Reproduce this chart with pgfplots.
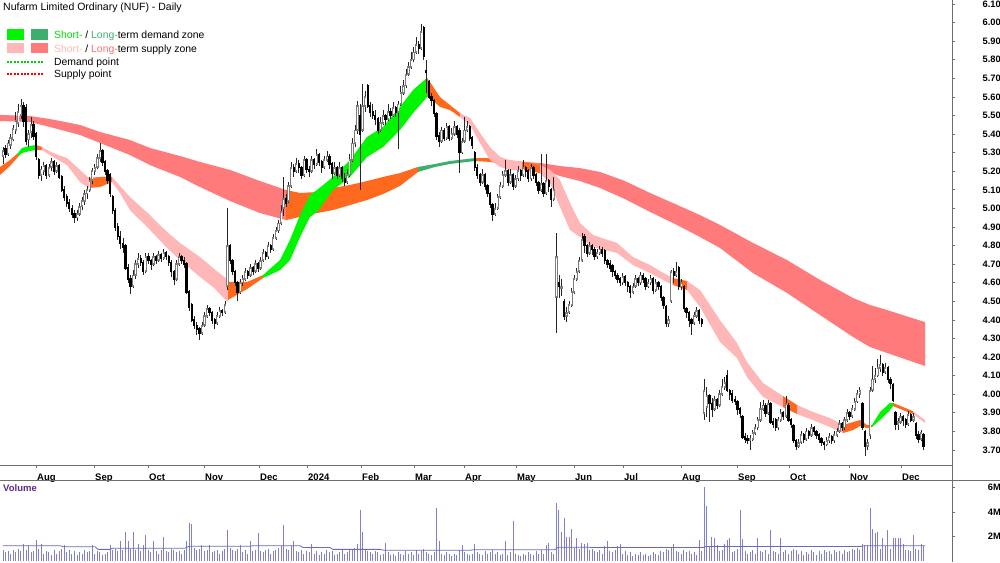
\documentclass[border=0pt]{standalone}
\usepackage{fontspec}
\setmainfont{Liberation Sans}
\usepackage{pgfplots}
\usepackage{pgfplotstable}
\pgfplotsset{compat=1.18}
\definecolor{ltred}{RGB}{255,122,122}
\definecolor{stpink}{RGB}{255,182,182}
\definecolor{stgreen}{RGB}{0,245,0}
\definecolor{ltgreen}{RGB}{60,175,110}
\definecolor{zorange}{RGB}{255,105,30}
\definecolor{volblue}{RGB}{128,128,210}
\definecolor{volline}{RGB}{105,105,195}
\definecolor{volpurple}{RGB}{90,40,140}
\definecolor{axgray}{RGB}{110,110,110}
\definecolor{upgray}{RGB}{125,125,125}
\newcommand\tickfont{\bfseries\fontsize{9.3}{10}\selectfont}

\pgfplotstableread{
i o h l c v
0 5.28 5.33 5.24 5.31 0.9
1 5.32 5.34 5.27 5.29 0.7
2 5.29 5.37 5.28 5.35 0.8
3 5.34 5.40 5.32 5.38 0.6
4 5.37 5.45 5.36 5.43 0.9
5 5.42 5.52 5.40 5.47 0.7
6 5.46 5.56 5.44 5.52 1.0
7 5.50 5.59 5.48 5.55 0.8
8 5.55 5.57 5.44 5.47 1.4
9 5.54 5.56 5.34 5.36 0.9
10 5.37 5.42 5.33 5.40 1.3
11 5.41 5.49 5.38 5.45 0.7
12 5.45 5.47 5.37 5.39 0.8
13 5.40 5.41 5.26 5.28 1.7
14 5.26 5.27 5.16 5.18 1.0
15 5.18 5.23 5.15 5.21 1.35
16 5.20 5.25 5.18 5.23 0.6
17 5.23 5.24 5.16 5.18 0.8
18 5.18 5.24 5.17 5.22 0.7
19 5.22 5.27 5.20 5.25 0.5
20 5.25 5.26 5.18 5.20 0.9
21 5.20 5.25 5.19 5.23 0.6
22 5.23 5.24 5.16 5.17 0.8
23 5.17 5.18 5.09 5.10 1.0
24 5.10 5.12 5.04 5.06 1.3
25 5.06 5.08 5.01 5.03 0.7
26 5.03 5.05 4.98 5.00 0.9
27 5.00 5.02 4.95 4.97 0.6
28 4.97 4.99 4.92 4.95 0.8
29 4.95 4.99 4.93 4.97 0.5
30 4.97 5.03 4.96 5.01 0.7
31 5.01 5.06 4.99 5.04 0.6
32 5.04 5.10 5.02 5.08 0.9
33 5.08 5.12 5.05 5.10 0.7
34 5.10 5.17 5.09 5.15 0.8
35 5.15 5.22 5.13 5.20 1.3
36 5.20 5.24 5.18 5.22 0.6
37 5.22 5.29 5.21 5.27 0.8
38 5.27 5.35 5.25 5.31 0.7
39 5.31 5.32 5.23 5.25 0.5
40 5.25 5.26 5.18 5.20 0.6
41 5.20 5.21 5.13 5.15 0.7
42 5.18 5.19 5.06 5.08 1.3
43 5.06 5.07 4.97 4.99 0.9
44 4.99 5.00 4.88 4.90 1.0
45 4.90 4.92 4.83 4.85 0.8
46 4.85 4.88 4.78 4.81 1.6
47 4.81 4.84 4.76 4.79 0.9
48 4.80 4.81 4.67 4.68 2.4
49 4.68 4.70 4.60 4.62 1.6
50 4.62 4.64 4.54 4.58 1.0
51 4.58 4.67 4.57 4.64 2.4
52 4.64 4.72 4.62 4.70 0.9
53 4.70 4.76 4.68 4.73 1.4
54 4.73 4.75 4.69 4.71 0.8
55 4.71 4.72 4.64 4.66 1.3
56 4.66 4.76 4.65 4.74 2.1
57 4.74 4.76 4.70 4.72 0.9
58 4.72 4.73 4.67 4.70 0.7
59 4.70 4.76 4.69 4.74 1.6
60 4.74 4.75 4.70 4.72 0.8
61 4.72 4.77 4.71 4.75 0.6
62 4.75 4.76 4.71 4.73 0.9
63 4.73 4.78 4.72 4.76 2.0
64 4.76 4.77 4.72 4.74 0.8
65 4.74 4.75 4.69 4.71 0.7
66 4.71 4.72 4.63 4.66 1.0
67 4.66 4.67 4.59 4.62 0.9
68 4.62 4.72 4.61 4.70 0.7
69 4.70 4.76 4.69 4.74 0.8
70 4.74 4.75 4.70 4.72 0.6
71 4.72 4.74 4.68 4.70 0.9
72 4.70 4.71 4.54 4.55 1.6
73 4.55 4.56 4.45 4.47 3.1
74 4.48 4.49 4.39 4.40 3.0
75 4.40 4.42 4.35 4.37 1.1
76 4.37 4.39 4.32 4.35 0.9
77 4.35 4.36 4.29 4.33 1.0
78 4.33 4.39 4.32 4.37 1.3
79 4.37 4.44 4.36 4.42 0.8
80 4.42 4.48 4.41 4.46 0.9
81 4.46 4.47 4.42 4.44 1.3
82 4.44 4.45 4.38 4.40 0.7
83 4.40 4.41 4.35 4.38 0.8
84 4.38 4.44 4.37 4.42 0.9
85 4.42 4.47 4.41 4.45 0.6
86 4.45 4.46 4.42 4.44 0.8
87 4.44 4.50 4.43 4.48 1.0
88 4.58 5.00 4.56 4.80 2.5
89 4.80 4.81 4.70 4.72 1.1
90 4.72 4.73 4.64 4.66 0.9
91 4.66 4.67 4.58 4.60 0.8
92 4.60 4.61 4.50 4.55 1.0
93 4.55 4.62 4.54 4.60 1.3
94 4.60 4.64 4.58 4.62 0.7
95 4.62 4.68 4.61 4.66 0.9
96 4.66 4.67 4.62 4.64 0.6
97 4.64 4.70 4.63 4.68 1.6
98 4.68 4.69 4.64 4.66 0.8
99 4.66 4.72 4.65 4.70 0.9
100 4.70 4.71 4.66 4.68 2.3
101 4.68 4.74 4.67 4.72 0.8
102 4.72 4.78 4.71 4.76 0.7
103 4.76 4.77 4.72 4.74 0.9
104 4.74 4.82 4.73 4.80 1.0
105 4.80 4.81 4.76 4.78 0.6
106 4.78 4.86 4.77 4.84 0.8
107 4.84 4.90 4.83 4.88 0.9
108 4.88 4.94 4.87 4.92 1.1
109 4.92 5.02 4.91 4.98 1.2
110 5.00 5.17 4.96 5.05 2.9
111 5.05 5.08 5.01 5.03 1.0
112 5.04 5.14 5.03 5.12 0.9
113 5.12 5.25 5.11 5.22 1.2
114 5.22 5.24 5.17 5.20 1.6
115 5.20 5.27 5.19 5.24 0.8
116 5.24 5.26 5.19 5.22 0.7
117 5.22 5.23 5.16 5.18 0.9
118 5.18 5.28 5.17 5.26 0.6
119 5.26 5.27 5.19 5.21 0.8
120 5.21 5.23 5.17 5.20 0.7
121 5.20 5.28 5.19 5.26 1.4
122 5.26 5.27 5.21 5.24 0.6
123 5.24 5.32 5.23 5.29 0.8
124 5.29 5.30 5.23 5.25 0.5
125 5.25 5.26 5.19 5.22 0.7
126 5.22 5.28 5.21 5.26 0.6
127 5.26 5.31 5.25 5.28 0.9
128 5.28 5.29 5.21 5.24 0.7
129 5.24 5.25 5.16 5.19 0.8
130 5.19 5.25 5.18 5.22 0.5
131 5.22 5.23 5.16 5.18 0.6
132 5.18 5.25 5.17 5.22 0.7
133 5.22 5.23 5.14 5.16 0.9
134 5.16 5.19 5.12 5.14 0.6
135 5.14 5.21 5.13 5.18 0.7
136 5.18 5.29 5.17 5.26 1.0
137 5.26 5.38 5.25 5.35 0.9
138 5.35 5.45 5.33 5.42 1.1
139 5.42 5.58 5.40 5.55 1.4
140 5.50 5.56 5.10 5.40 4.2
141 5.42 5.67 5.41 5.55 2.4
142 5.55 5.63 5.52 5.60 1.0
143 5.66 5.67 5.54 5.55 0.8
144 5.55 5.57 5.49 5.52 0.7
145 5.52 5.56 5.48 5.50 0.6
146 5.50 5.53 5.45 5.48 0.8
147 5.48 5.49 5.40 5.42 0.7
148 5.42 5.49 5.41 5.46 0.5
149 5.46 5.53 5.45 5.50 0.6
150 5.50 5.51 5.45 5.48 1.5
151 5.48 5.56 5.47 5.52 0.7
152 5.52 5.54 5.48 5.50 0.5
153 5.50 5.57 5.49 5.54 0.6
154 5.54 5.55 5.49 5.52 0.4
155 5.52 5.58 5.32 5.56 0.7
156 5.56 5.66 5.55 5.62 0.6
157 5.62 5.69 5.61 5.66 0.5
158 5.66 5.75 5.65 5.72 0.8
159 5.72 5.79 5.71 5.76 0.6
160 5.76 5.84 5.75 5.80 0.7
161 5.80 5.87 5.79 5.84 0.5
162 5.84 5.92 5.83 5.88 0.9
163 5.88 5.90 5.83 5.86 0.6
164 5.86 5.99 5.85 5.95 0.8
165 5.97 5.98 5.80 5.82 1.0
166 5.74 5.80 5.62 5.73 0.7
167 5.68 5.69 5.59 5.60 0.6
168 5.60 5.62 5.55 5.58 0.5
169 5.58 5.59 5.49 5.51 0.7
170 5.51 5.52 5.37 5.39 4.3
171 5.39 5.41 5.33 5.36 1.6
172 5.36 5.44 5.35 5.42 0.6
173 5.42 5.43 5.36 5.38 0.5
174 5.38 5.46 5.37 5.44 0.7
175 5.44 5.45 5.36 5.38 0.6
176 5.38 5.43 5.37 5.40 0.4
177 5.40 5.47 5.39 5.44 0.6
178 5.44 5.45 5.38 5.40 0.5
179 5.42 5.43 5.19 5.30 0.9
180 5.30 5.38 5.29 5.36 1.3
181 5.36 5.49 5.35 5.42 0.7
182 5.42 5.47 5.41 5.44 0.6
183 5.44 5.45 5.36 5.38 0.5
184 5.38 5.39 5.32 5.34 0.6
185 5.30 5.31 5.20 5.22 1.35
186 5.22 5.24 5.16 5.18 0.7
187 5.18 5.19 5.12 5.14 0.6
188 5.14 5.21 5.13 5.18 0.5
189 5.18 5.19 5.10 5.12 0.8
190 5.12 5.13 5.06 5.08 0.6
191 5.08 5.09 5.00 5.02 0.7
192 5.02 5.03 4.93 4.97 0.9
193 4.97 5.03 4.96 5.00 0.6
194 5.00 5.08 4.99 5.06 0.7
195 5.06 5.14 5.05 5.12 0.5
196 5.12 5.20 5.11 5.18 0.6
197 5.18 5.26 5.17 5.20 1.6
198 5.20 5.21 5.12 5.14 0.5
199 5.14 5.21 5.13 5.18 0.7
200 5.18 5.19 5.10 5.12 3.3
201 5.12 5.18 5.11 5.16 0.6
202 5.16 5.23 5.15 5.20 0.5
203 5.20 5.21 5.15 5.18 0.4
204 5.18 5.26 5.17 5.22 0.6
205 5.22 5.23 5.17 5.20 0.5
206 5.20 5.21 5.14 5.16 0.7
207 5.16 5.24 5.15 5.22 0.6
208 5.22 5.23 5.16 5.18 0.5
209 5.18 5.19 5.12 5.14 0.8
210 5.14 5.15 5.08 5.10 0.6
211 5.10 5.29 5.09 5.13 0.9
212 5.13 5.14 5.06 5.08 0.6
213 5.08 5.29 5.07 5.15 1.3
214 5.15 5.16 5.09 5.12 1.5
215 5.10 5.11 5.01 5.05 0.7
216 5.05 5.17 5.04 5.10 0.6
217 4.52 4.87 4.33 4.74 4.7
218 4.60 4.64 4.52 4.58 4.2
219 4.57 4.62 4.53 4.58 2.4
220 4.50 4.51 4.40 4.42 3.5
221 4.42 4.47 4.39 4.44 2.0
222 4.44 4.50 4.43 4.48 2.0
223 4.48 4.57 4.47 4.55 2.6
224 4.55 4.64 4.54 4.62 1.1
225 4.62 4.68 4.61 4.66 1.9
226 4.66 4.74 4.65 4.72 1.0
227 4.72 4.87 4.71 4.83 1.5
228 4.85 4.86 4.76 4.80 1.4
229 4.80 4.81 4.74 4.76 1.5
230 4.76 4.82 4.75 4.80 0.9
231 4.80 4.81 4.75 4.78 1.0
232 4.78 4.79 4.72 4.74 0.8
233 4.74 4.78 4.73 4.76 0.7
234 4.76 4.80 4.75 4.78 0.9
235 4.78 4.79 4.74 4.76 0.6
236 4.77 4.78 4.70 4.72 1.2
237 4.72 4.73 4.68 4.70 1.6
238 4.70 4.72 4.66 4.68 0.8
239 4.69 4.70 4.63 4.66 0.7
240 4.66 4.67 4.62 4.64 0.9
241 4.64 4.65 4.60 4.62 1.2
242 4.62 4.63 4.58 4.60 1.4
243 4.60 4.65 4.59 4.63 0.6
244 4.63 4.64 4.58 4.60 0.8
245 4.60 4.61 4.55 4.58 0.5
246 4.58 4.59 4.52 4.55 0.7
247 4.55 4.60 4.54 4.58 0.4
248 4.58 4.64 4.57 4.62 0.6
249 4.62 4.63 4.58 4.60 0.5
250 4.60 4.66 4.59 4.64 0.7
251 4.64 4.65 4.60 4.62 0.5
252 4.62 4.63 4.56 4.58 0.6
253 4.58 4.62 4.57 4.60 0.4
254 4.60 4.64 4.59 4.62 0.5
255 4.62 4.63 4.54 4.56 0.7
256 4.56 4.62 4.55 4.60 0.6
257 4.60 4.61 4.56 4.58 0.5
258 4.58 4.59 4.50 4.52 0.8
259 4.52 4.53 4.46 4.48 0.7
260 4.47 4.48 4.36 4.38 1.0
261 4.38 4.42 4.36 4.40 0.9
262 4.50 4.67 4.49 4.66 1.1
263 4.66 4.68 4.60 4.64 1.4
264 4.64 4.71 4.63 4.66 0.8
265 4.68 4.69 4.56 4.58 0.7
266 4.58 4.62 4.56 4.60 0.6
267 4.58 4.59 4.44 4.46 0.9
268 4.46 4.47 4.41 4.44 0.7
269 4.44 4.45 4.36 4.40 0.8
270 4.40 4.41 4.32 4.38 0.6
271 4.38 4.44 4.37 4.42 0.7
272 4.42 4.47 4.41 4.45 0.5
273 4.45 4.46 4.38 4.40 1.7
274 4.40 4.41 4.36 4.38 0.8
275 3.90 4.08 3.86 4.02 6.0
276 3.93 4.04 3.88 3.99 4.5
277 3.99 4.00 3.85 3.95 1.2
278 3.95 3.98 3.88 3.92 2.0
279 3.92 3.99 3.91 3.97 1.9
280 3.97 3.98 3.92 3.94 1.3
281 3.94 4.02 3.93 4.00 0.8
282 4.00 4.08 3.99 4.04 0.9
283 4.04 4.09 4.02 4.06 1.4
284 4.10 4.13 4.01 4.02 1.7
285 4.02 4.03 3.97 4.00 1.9
286 4.00 4.02 3.95 3.97 0.7
287 3.97 3.99 3.94 3.96 0.8
288 3.96 3.97 3.89 3.92 1.0
289 3.92 3.93 3.87 3.90 4.2
290 3.88 3.89 3.76 3.77 1.8
291 3.77 3.79 3.74 3.76 0.8
292 3.76 3.78 3.73 3.75 0.6
293 3.75 3.78 3.70 3.76 0.7
294 3.76 3.81 3.75 3.79 0.9
295 3.79 3.84 3.78 3.82 0.6
296 3.82 3.88 3.81 3.86 1.9
297 3.86 3.96 3.85 3.92 0.8
298 3.92 3.97 3.91 3.94 0.7
299 3.94 3.95 3.88 3.90 0.9
300 3.90 3.97 3.89 3.95 0.6
301 3.95 3.96 3.84 3.85 2.5
302 3.85 3.87 3.82 3.84 0.8
303 3.86 3.87 3.80 3.82 0.7
304 3.82 3.88 3.81 3.86 0.6
305 3.86 3.92 3.85 3.90 1.9
306 3.90 3.91 3.86 3.88 0.7
307 3.88 3.99 3.87 3.95 0.9
308 3.94 3.95 3.85 3.86 0.6
309 3.86 3.87 3.82 3.84 0.8
310 3.83 3.84 3.74 3.75 1.0
311 3.75 3.76 3.70 3.72 0.9
312 3.72 3.76 3.71 3.74 0.6
313 3.74 3.80 3.73 3.78 0.8
314 3.78 3.79 3.74 3.76 0.5
315 3.76 3.82 3.75 3.80 0.7
316 3.80 3.81 3.76 3.78 0.6
317 3.78 3.84 3.77 3.82 0.9
318 3.82 3.83 3.78 3.80 0.7
319 3.80 3.81 3.76 3.78 0.5
320 3.78 3.79 3.74 3.76 0.8
321 3.76 3.77 3.72 3.74 0.6
322 3.74 3.75 3.70 3.73 0.9
323 3.73 3.77 3.72 3.75 0.7
324 3.75 3.79 3.74 3.77 0.8
325 3.77 3.78 3.73 3.75 0.6
326 3.75 3.80 3.74 3.78 0.9
327 3.78 3.82 3.77 3.80 0.7
328 3.80 3.86 3.79 3.84 0.8
329 3.84 3.85 3.80 3.82 0.6
330 3.82 3.88 3.81 3.86 0.9
331 3.86 3.92 3.85 3.90 0.7
332 3.90 3.91 3.86 3.88 0.8
333 3.88 3.94 3.87 3.92 1.0
334 3.92 3.98 3.91 3.96 0.9
335 3.96 4.02 3.95 4.00 1.1
336 4.00 4.04 3.98 4.02 0.9
337 3.95 3.96 3.81 3.82 1.4
338 3.80 3.81 3.67 3.72 1.3
339 3.72 3.76 3.70 3.74 1.3
340 3.78 4.04 3.76 4.02 4.3
341 4.02 4.15 4.01 4.08 2.6
342 4.08 4.14 4.06 4.10 2.3
343 4.10 4.19 4.09 4.14 2.4
344 4.14 4.21 4.12 4.16 1.0
345 4.16 4.17 4.10 4.12 1.9
346 4.12 4.17 4.11 4.14 1.2
347 4.14 4.15 4.06 4.08 2.5
348 4.08 4.09 4.03 4.06 1.0
349 4.05 4.06 3.96 3.97 1.9
350 3.90 3.91 3.81 3.84 1.9
351 3.84 3.87 3.81 3.85 1.9
352 3.85 3.90 3.84 3.88 1.9
353 3.88 3.89 3.83 3.86 1.4
354 3.86 3.87 3.82 3.84 0.9
355 3.84 3.91 3.83 3.89 0.9
356 3.89 3.90 3.85 3.86 0.8
357 3.86 3.90 3.85 3.88 2.1
358 3.84 3.85 3.76 3.78 1.0
359 3.78 3.80 3.74 3.76 0.9
360 3.76 3.81 3.75 3.79 1.4
361 3.78 3.79 3.70 3.72 1.2
}\candles

\begin{document}
\begin{tikzpicture}[x=1pt,y=1pt]
\useasboundingbox (0,0) rectangle (1000,562);
% ---------------- price panel ----------------
\begin{axis}[at={(0pt,562pt)}, anchor=north west, scale only axis,
  width=952pt, height=465pt,
  xmin=0, xmax=952, ymin=3.619, ymax=6.1215,
  axis x line*=bottom, axis y line*=right,
  axis line style={axgray, line width=0.8pt},
  tick align=outside, major tick length=3pt,
  tick style={axgray, line width=0.7pt},
  xtick={36,94,148,204,259,307,361,414,464,516,574,623,681,737,789,849,901},
  xticklabels={Aug,Sep,Oct,Nov,Dec,2024,Feb,Mar,Apr,May,Jun,Jul,Aug,Sep,Oct,Nov,Dec},
  xticklabel style={font=\bfseries\fontsize{9.5}{10}\selectfont, anchor=base west, inner sep=0pt, xshift=1pt, yshift=-12.5pt},
  ytick={3.7,3.8,3.9,4.0,4.1,4.2,4.3,4.4,4.5,4.6,4.7,4.8,4.9,5.0,5.1,5.2,5.3,5.4,5.5,5.6,5.7,5.8,5.9,6.0,6.1},
  yticklabel style={font=\tickfont, anchor=east, inner sep=0pt, xshift=46pt,
    /pgf/number format/fixed, /pgf/number format/fixed zerofill,
    /pgf/number format/precision=2, /pgf/number format/assume math mode=true},
]
% long-term band
\addplot[fill=ltred, draw=none, forget plot] coordinates {(0,5.503) (30,5.497) (50,5.481) (80,5.449) (100,5.411) (130,5.368) (150,5.325) (180,5.282) (200,5.250) (230,5.207) (260,5.147) (286,5.099) (286,4.937) (260,4.975) (230,5.040) (200,5.115) (180,5.169) (150,5.233) (130,5.287) (100,5.352) (80,5.395) (50,5.438) (30,5.465) (0,5.470)} -- cycle;
\addplot[fill=zorange, draw=none, forget plot] coordinates {(286,5.099) (300,5.083) (317,5.088) (333,5.110) (350,5.126) (367,5.147) (383,5.169) (400,5.190) (418,5.223) (418,5.196) (400,5.121) (383,5.077) (367,5.045) (350,5.018) (333,4.991) (317,4.975) (300,4.954) (286,4.937)} -- cycle;
\addplot[fill=ltgreen, draw=none, forget plot] coordinates {(418,5.223) (435,5.239) (450,5.255) (475,5.271) (475,5.255) (450,5.239) (435,5.223) (418,5.196)} -- cycle;
\addplot[fill=zorange, draw=none, forget plot] coordinates {(475,5.271) (490,5.271) (505,5.260) (515,5.255) (515,5.228) (505,5.234) (490,5.250) (475,5.255)} -- cycle;
\addplot[fill=ltred, draw=none, forget plot] coordinates {(515,5.255) (540,5.244) (560,5.228) (580,5.217) (600,5.196) (625,5.147) (650,5.083) (675,5.024) (700,4.964) (720,4.911) (753,4.814) (787,4.722) (820,4.615) (853,4.518) (870,4.480) (887,4.453) (925,4.388) (925,4.152) (887,4.222) (870,4.254) (853,4.308) (820,4.426) (787,4.545) (753,4.652) (720,4.787) (700,4.846) (675,4.916) (650,4.981) (625,5.050) (600,5.110) (580,5.147) (560,5.174) (540,5.212) (515,5.228)} -- cycle;
% short-term band
\addplot[fill=zorange, draw=none, forget plot] coordinates {(0,5.223) (10,5.260) (18,5.298) (18,5.277) (10,5.228) (0,5.180)} -- cycle;
\addplot[fill=stgreen, draw=none, forget plot] coordinates {(18,5.298) (22,5.325) (30,5.336) (36,5.341) (36,5.314) (30,5.309) (22,5.298) (18,5.277)} -- cycle;
\addplot[fill=zorange, draw=none, forget plot] coordinates {(36,5.341) (42,5.330) (42,5.314) (36,5.314)} -- cycle;
\addplot[fill=stpink, draw=none, forget plot] coordinates {(42,5.330) (53,5.298) (67,5.271) (80,5.207) (89,5.163) (89,5.110) (80,5.142) (67,5.233) (53,5.277) (42,5.314)} -- cycle;
\addplot[fill=zorange, draw=none, forget plot] coordinates {(89,5.163) (100,5.169) (112,5.169) (112,5.142) (100,5.115) (89,5.110)} -- cycle;
\addplot[fill=stpink, draw=none, forget plot] coordinates {(112,5.169) (120,5.121) (130,5.061) (150,4.964) (167,4.873) (180,4.814) (200,4.738) (213,4.679) (228,4.615) (228,4.496) (213,4.577) (200,4.631) (180,4.722) (167,4.787) (150,4.884) (130,4.991) (120,5.083) (112,5.142)} -- cycle;
\addplot[fill=zorange, draw=none, forget plot] coordinates {(228,4.604) (247,4.604) (263,4.641) (263,4.625) (247,4.566) (228,4.507)} -- cycle;
\addplot[fill=stgreen, draw=none, forget plot] coordinates {(263,4.641) (280,4.722) (290,4.830) (300,4.964) (310,5.072) (317,5.099) (333,5.169) (350,5.260) (367,5.384) (383,5.438) (400,5.546) (413,5.637) (427,5.702) (427,5.599) (413,5.513) (400,5.422) (383,5.330) (367,5.277) (350,5.169) (333,5.099) (317,4.981) (310,4.954) (300,4.846) (290,4.722) (280,4.668) (263,4.625)} -- cycle;
\addplot[fill=zorange, draw=none, forget plot] coordinates {(427,5.702) (430,5.680) (440,5.599) (450,5.556) (460,5.513) (460,5.492) (450,5.529) (440,5.546) (430,5.594) (427,5.599)} -- cycle;
\addplot[fill=stpink, draw=none, forget plot] coordinates {(460,5.513) (470,5.486) (480,5.406) (490,5.330) (500,5.277) (510,5.260) (522,5.250) (522,5.207) (510,5.207) (500,5.223) (490,5.260) (480,5.352) (470,5.449) (460,5.492)} -- cycle;
\addplot[fill=zorange, draw=none, forget plot] coordinates {(522,5.250) (540,5.233) (540,5.190) (522,5.207)} -- cycle;
\addplot[fill=stpink, draw=none, forget plot] coordinates {(540,5.233) (550,5.207) (560,5.153) (570,5.029) (580,4.921) (593,4.857) (617,4.814) (633,4.738) (650,4.695) (667,4.641) (673,4.625) (673,4.588) (667,4.604) (650,4.652) (633,4.695) (617,4.760) (593,4.792) (580,4.846) (570,4.884) (560,5.007) (550,5.137) (540,5.190)} -- cycle;
\addplot[fill=zorange, draw=none, forget plot] coordinates {(673,4.625) (687,4.609) (687,4.561) (673,4.588)} -- cycle;
\addplot[fill=stpink, draw=none, forget plot] coordinates {(687,4.609) (700,4.561) (720,4.399) (737,4.275) (747,4.173) (763,4.060) (783,3.990) (783,3.931) (763,3.985) (747,4.092) (737,4.195) (720,4.281) (700,4.469) (687,4.561)} -- cycle;
\addplot[fill=zorange, draw=none, forget plot] coordinates {(783,3.990) (797,3.942) (797,3.893) (783,3.931)} -- cycle;
\addplot[fill=stpink, draw=none, forget plot] coordinates {(797,3.942) (813,3.904) (830,3.872) (843,3.834) (843,3.791) (830,3.823) (813,3.861) (797,3.893)} -- cycle;
\addplot[fill=zorange, draw=none, forget plot] coordinates {(843,3.834) (853,3.850) (860,3.861) (867,3.834) (872,3.834) (872,3.823) (867,3.818) (860,3.829) (853,3.807) (843,3.791)} -- cycle;
\addplot[fill=stgreen, draw=none, forget plot] coordinates {(872,3.834) (880,3.904) (890,3.953) (893,3.953) (893,3.936) (890,3.915) (880,3.861) (872,3.823)} -- cycle;
\addplot[fill=zorange, draw=none, forget plot] coordinates {(893,3.953) (913,3.909) (913,3.893) (893,3.936)} -- cycle;
\addplot[fill=stpink, draw=none, forget plot] coordinates {(913,3.909) (925,3.861) (925,3.845) (913,3.893)} -- cycle;
% candles: wicks
\addplot[draw=none, mark=none, forget plot,
  error bars/.cd, y dir=both, y explicit, error mark=none,
  error bar style={draw=black!85, line width=0.65pt}]
  table[x expr=3+2.55*\thisrow{i}, y=c,
    y error plus expr=\thisrow{h}-\thisrow{c},
    y error minus expr=\thisrow{c}-\thisrow{l}] {\candles};
% up bodies (hollow look)
\addplot[draw=none, mark=none, forget plot, restrict y to domain=0:10,
  error bars/.cd, y dir=both, y explicit, error mark=none,
  error bar style={draw=upgray, line width=2.3pt, line cap=butt}]
  table[x expr=3+2.55*\thisrow{i},
    y expr={ifthenelse(\thisrow{c}>=\thisrow{o},0.5*(\thisrow{o}+\thisrow{c}),-50)},
    y error expr={abs(\thisrow{c}-\thisrow{o})/2+0.004}] {\candles};
\addplot[draw=none, mark=none, forget plot, restrict y to domain=0:10,
  error bars/.cd, y dir=both, y explicit, error mark=none,
  error bar style={draw=white, line width=0.7pt, line cap=butt}]
  table[x expr=3+2.55*\thisrow{i},
    y expr={ifthenelse(\thisrow{c}>=\thisrow{o},0.5*(\thisrow{o}+\thisrow{c}),-50)},
    y error expr={max(abs(\thisrow{c}-\thisrow{o})/2-0.006,0)}] {\candles};
% down bodies
\addplot[draw=none, mark=none, forget plot, restrict y to domain=0:10,
  error bars/.cd, y dir=both, y explicit, error mark=none,
  error bar style={draw=black, line width=2.3pt, line cap=butt}]
  table[x expr=3+2.55*\thisrow{i},
    y expr={ifthenelse(\thisrow{c}<\thisrow{o},0.5*(\thisrow{o}+\thisrow{c}),-50)},
    y error expr={abs(\thisrow{c}-\thisrow{o})/2+0.004}] {\candles};
\end{axis}
% ---------------- volume panel ----------------
\begin{axis}[at={(0pt,0pt)}, anchor=south west, scale only axis,
  width=952pt, height=82pt,
  xmin=0, xmax=952, ymin=-0.08, ymax=6.61,
  axis x line=none, axis y line*=right,
  axis line style={axgray, line width=0.8pt},
  tick align=outside, major tick length=3pt,
  tick style={axgray, line width=0.7pt},
  xtick=\empty,
  ytick={2,4,6}, yticklabels={2M,4M,6M},
  yticklabel style={font=\tickfont, anchor=east, inner sep=0pt, xshift=46pt},
]
\addplot[ycomb, volblue, line width=0.9pt, forget plot] table[x expr=3+2.55*\thisrow{i}, y=v] {\candles};
\addplot[volline, line width=0.8pt, forget plot] coordinates {(3,1.25) (60,1.25) (63,1.17) (95,1.17) (98,0.95) (110,0.95) (113,1.05) (185,1.05) (189,1.2) (250,1.2) (253,1.25) (300,1.25) (303,1.1) (330,1.1) (333,0.95) (380,0.95) (384,0.88) (470,0.88) (474,0.92) (555,0.92) (558,1.12) (590,1.12) (593,1.1) (703,1.1) (706,1.18) (860,1.18) (865,1.25) (925,1.25)};
\end{axis}
% frame lines
\draw[axgray, line width=0.8pt] (0,82) -- (1000,82);
\draw[axgray, line width=0.8pt] (952,82) -- (952,97);
% titles and legend
\node[anchor=base west, inner sep=0pt, font=\fontsize{10.5}{12}\selectfont] at (3,551) {Nufarm Limited Ordinary (NUF) - Daily};
\node[anchor=base west, inner sep=0pt, font=\bfseries\fontsize{9.5}{10}\selectfont, text=volpurple] at (3,70.5) {Volume};
\fill[stgreen] (7,522) rectangle (24,533);
\fill[ltgreen] (31,522) rectangle (48,533);
\fill[stpink] (7,509) rectangle (24,519);
\fill[ltred] (31,509) rectangle (48,519);
\draw[stgreen!85!black, line width=2pt, dash pattern=on 2pt off 1.4pt] (7,500) -- (44,500);
\draw[red, line width=2pt, dash pattern=on 2pt off 1.4pt] (7,488) -- (44,488);
\begin{scope}[every node/.style={anchor=base west, inner sep=0pt, font=\fontsize{10.4}{12}\selectfont}]
\node at (54,523.7) {\textcolor{stgreen!90!black}{Short-} / \textcolor{ltgreen}{Long-}term demand zone};
\node at (54,509.5) {\textcolor{stpink}{Short-} / \textcolor{ltred!90!red}{Long-}term supply zone};
\node at (54,496.3) {Demand point};
\node at (54,484.3) {Supply point};
\end{scope}
\end{tikzpicture}
\end{document}
